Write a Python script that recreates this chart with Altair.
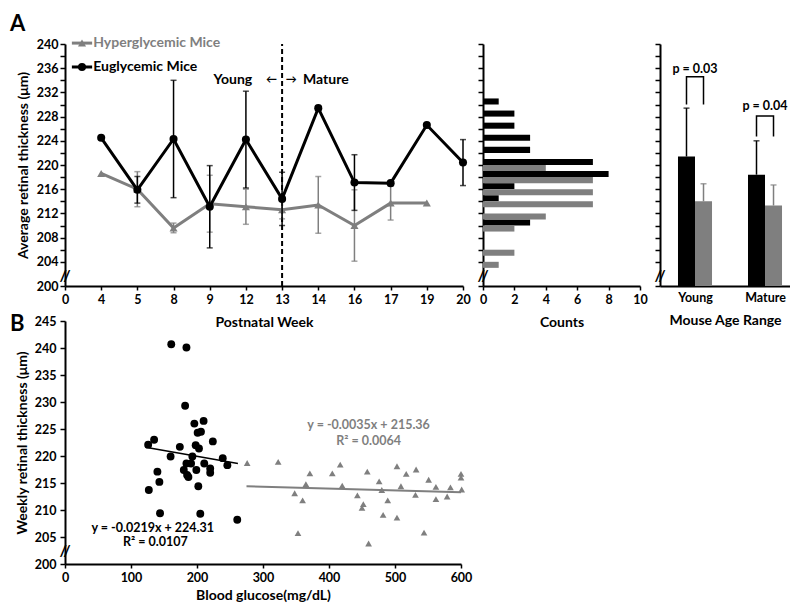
import json
import altair as alt
import pandas as pd

FONT = "Lato"
GRAY = "#7f7f7f"
BLACK = "#000000"

# ---------------- Panel A (left): weekly averages ----------------
week_labels = ["0", "4", "5", "8", "9", "12", "13", "14", "16", "17", "19", "20"]
eu_weeks = ["4", "5", "8", "9", "12", "13", "14", "16", "17", "19", "20"]
eu_mean = [224.5, 215.9, 224.3, 213.1, 224.2, 214.4, 229.4, 217.1, 217.0, 226.6, 220.4]
eu_sd = [0, 2.2, 9.7, 6.8, 8.0, 4.4, 0, 4.6, 0, 0, 3.8]
hy_weeks = ["4", "5", "8", "9", "12", "13", "14", "16", "17", "19"]
hy_mean = [218.6, 216.0, 209.6, 213.6, 213.1, 212.6, 213.4, 210.0, 213.7, 213.7]
hy_sd = [0, 2.9, 0.8, 4.7, 2.9, 1.5, 4.7, 5.9, 2.8, 0]
legend_names = ["Hyperglycemic Mice", "Euglycemic Mice"]
age_split_week = "13"
age_notes = ["Young", "←", "→", "Mature"]

# ---------------- Panel A (middle): histogram ----------------
hist_bins = [230, 228, 226, 224, 222, 220, 218, 216, 214, 212, 210, 208, 206, 204]
hist_eu = [1, 2, 2, 3, 3, 7, 8, 2, 1, 0, 3, 0, 0, 0]
hist_hy = [0, 0, 0, 0, 0, 4, 7, 7, 7, 4, 2, 0, 2, 1]

# ---------------- Panel A (right): age groups ----------------
age_groups = ["Young", "Mature"]
grp_eu_mean = [221.4, 218.4]
grp_eu_sd = [8.0, 5.6]
grp_hy_mean = [214.0, 213.3]
grp_hy_sd = [2.9, 3.4]
p_values = ["p = 0.03", "p = 0.04"]
p_bracket_top = [234.6, 228.1]
p_bracket_foot = [230.0, 224.7]
p_label_y = [235.8, 229.8]

# ---------------- Panel B: scatter ----------------
eu_glucose = [161, 184, 182, 210, 196, 201, 206, 224, 135, 126, 174, 198, 203, 160, 193,
              239, 246, 184, 191, 211, 220, 220, 180, 199, 185, 187, 140, 143, 202, 127,
              144, 205, 261]
eu_thick = [240.7, 240.1, 229.3, 226.5, 226.0, 224.3, 224.5, 222.7, 223.0, 222.1, 221.7,
            222.0, 221.4, 219.9, 219.9, 219.6, 218.3, 218.6, 218.6, 218.6, 217.7, 216.9,
            217.4, 217.4, 216.5, 216.1, 217.1, 215.2, 214.4, 213.7, 209.4, 209.3, 208.2]
hy_glucose = [276, 323, 371, 365, 348, 360, 353, 405, 417, 420, 443, 452, 450, 458, 460,
              476, 480, 489, 482, 503, 503, 509, 517, 532, 531, 544, 551, 562, 562, 579,
              584, 600, 600, 601]
hy_thick = [218.7, 218.9, 216.8, 214.8, 213.1, 211.8, 205.7, 216.8, 218.4, 214.5, 212.7,
            211.1, 210.4, 217.1, 203.8, 215.3, 213.7, 211.8, 209.1, 208.6, 218.1, 214.4,
            216.7, 217.5, 212.8, 205.8, 215.6, 214.3, 212.0, 212.5, 214.2, 216.7, 216.0, 213.8]
eu_fit_x = [122, 262]
eu_fit_y = [221.6, 218.6]
hy_fit_x = [275, 600]
hy_fit_y = [214.4, 213.3]
eu_eq = ["y = -0.0219x + 224.31", "R² = 0.0107"]
hy_eq = ["y = -0.0035x + 215.36", "R² = 0.0064"]

# =====================================================================
pos = {w: i for i, w in enumerate(week_labels)}


def series_df(weeks, mean, sd):
    d = pd.DataFrame({"x": [pos[w] for w in weeks], "y": mean, "sd": sd})
    d["lo"] = d["y"] - d["sd"]
    d["hi"] = d["y"] + d["sd"]
    return d


eu_df = series_df(eu_weeks, eu_mean, eu_sd)
hy_df = series_df(hy_weeks, hy_mean, hy_sd)

A_xaxis = alt.Axis(values=list(range(len(week_labels))),
                   labelExpr=json.dumps(week_labels) + "[datum.value]",
                   title="Postnatal Week", tickSize=4, labelPadding=3, titlePadding=10)
A_yaxis = alt.Axis(values=[200] + list(range(204, 241, 2)),
                   labelExpr="datum.value % 4 == 0 ? datum.label : ''",
                   title="Average retinal thickness (μm)", tickSize=5, labelPadding=2,
                   titlePadding=6)
Y_SCALE = alt.Scale(domain=[200, 240], nice=False, zero=False)


def ax(f):
    return alt.X(f"{f}:Q", scale=alt.Scale(domain=[0, 11], nice=False, zero=False), axis=A_xaxis)


def ay(f):
    return alt.Y(f"{f}:Q", scale=Y_SCALE, axis=A_yaxis)


def err_layers(df, color, xenc, yenc):
    b = alt.Chart(df[df["sd"] > 0])
    r = b.mark_rule(color=color, strokeWidth=1.5).encode(x=xenc("x"), y=yenc("lo"), y2="hi")
    t1 = b.mark_tick(color=color, orient="horizontal", size=6, thickness=1.5).encode(
        x=xenc("x"), y=yenc("lo"))
    t2 = b.mark_tick(color=color, orient="horizontal", size=6, thickness=1.5).encode(
        x=xenc("x"), y=yenc("hi"))
    return [r, t1, t2]


dash = alt.Chart(pd.DataFrame({"x": [pos[age_split_week]], "lo": [200], "hi": [240]})).mark_rule(
    color=BLACK, strokeWidth=2, strokeDash=[5, 3]).encode(x=ax("x"), y=ay("lo"), y2="hi")

hy_line = alt.Chart(hy_df).mark_line(color=GRAY, strokeWidth=3).encode(x=ax("x"), y=ay("y"))
hy_pts = alt.Chart(hy_df).mark_point(shape="triangle-up", filled=True, size=65, color=GRAY,
                                     opacity=1).encode(x=ax("x"), y=ay("y"))
eu_line = alt.Chart(eu_df).mark_line(color=BLACK, strokeWidth=3).encode(x=ax("x"), y=ay("y"))
eu_pts = alt.Chart(eu_df).mark_point(shape="circle", filled=True, size=65, color=BLACK,
                                     opacity=1).encode(x=ax("x"), y=ay("y"))

leg_df = pd.DataFrame({"name": legend_names, "x0": [0.19, 0.19], "x1": [0.75, 0.75],
                       "xm": [0.47, 0.47], "xt": [0.78, 0.78], "y": [240.15, 236.2],
                       "color": [GRAY, BLACK], "shape": ["triangle-up", "circle"]})
leg_rule = alt.Chart(leg_df).mark_rule(strokeWidth=3).encode(
    x=ax("x0"), x2="x1", y=ay("y"), color=alt.Color("color:N", scale=None))
leg_pt = alt.Chart(leg_df).mark_point(filled=True, size=65, opacity=1).encode(
    x=ax("xm"), y=ay("y"), color=alt.Color("color:N", scale=None),
    shape=alt.Shape("shape:N", scale=None))
leg_txt = alt.Chart(leg_df).mark_text(align="left", font=FONT, fontSize=14, fontWeight="bold").encode(
    x=ax("xt"), y=ay("y"), text="name:N", color=alt.Color("color:N", scale=None))

note_df = pd.DataFrame({"x": [4.64, 5.71, 6.25, 7.21], "y": [234.0] * 4, "t": age_notes,
                        "fs": [14, 11, 11, 14]})
notes = alt.Chart(note_df).mark_text(font=FONT, fontWeight="bold", color=BLACK).encode(
    x=ax("x"), y=ay("y"), text="t:N", size=alt.Size("fs:Q", scale=None))

brkA = alt.Chart(pd.DataFrame({"x": [0], "y": [201.7]})).mark_text(
    text="//", font=FONT, fontSize=16, fontWeight="bold", color=BLACK).encode(x=ax("x"), y=ay("y"))
labA = alt.Chart(pd.DataFrame({"x": [-1.52], "y": [243.3], "t": ["A"]})).mark_text(
    align="left", font=FONT, fontSize=22, fontWeight="bold", color=BLACK).encode(
    x=ax("x"), y=ay("y"), text="t:N")

lineA = alt.layer(dash, *err_layers(hy_df, GRAY, ax, ay), hy_line, hy_pts,
                  *err_layers(eu_df, BLACK, ax, ay), eu_line, eu_pts,
                  leg_rule, leg_pt, leg_txt, notes, brkA, labA).properties(width=398, height=242)

# ---------------- histogram ----------------
rows = []
for v, c in zip(hist_bins, hist_eu):
    if c > 0:
        rows.append({"count": c, "lo": v, "hi": v + 1, "color": BLACK})
for v, c in zip(hist_bins, hist_hy):
    if c > 0:
        rows.append({"count": c, "lo": v - 1, "hi": v, "color": GRAY})
hist_df = pd.DataFrame(rows)

H_xaxis = alt.Axis(values=[0, 2, 4, 6, 8, 10], title="Counts", tickSize=4, labelPadding=3,
                   titlePadding=10)
H_yaxis = alt.Axis(values=[200] + list(range(204, 241, 2)), labels=False, title=None, tickSize=5)


def hx(f):
    return alt.X(f"{f}:Q", scale=alt.Scale(domain=[0, 10], nice=False, zero=False), axis=H_xaxis)


def hy(f):
    return alt.Y(f"{f}:Q", scale=Y_SCALE, axis=H_yaxis)


hbars = alt.Chart(hist_df).mark_rect().encode(
    x=hx("count"), x2=alt.datum(0), y=hy("lo"), y2="hi", color=alt.Color("color:N", scale=None))
brkH = alt.Chart(pd.DataFrame({"x": [0], "y": [201.7]})).mark_text(
    text="//", font=FONT, fontSize=16, fontWeight="bold", color=BLACK).encode(x=hx("x"), y=hy("y"))
hist = alt.layer(hbars, brkH).properties(width=157, height=242)

# ---------------- age group bars ----------------
BAR_W = 0.243
brows = []
for i, g in enumerate(age_groups):
    brows.append({"x0": i - BAR_W, "x1": i, "xm": i - BAR_W / 2, "top": grp_eu_mean[i],
                  "hi": grp_eu_mean[i] + grp_eu_sd[i], "color": BLACK})
    brows.append({"x0": i, "x1": i + BAR_W, "xm": i + BAR_W / 2, "top": grp_hy_mean[i],
                  "hi": grp_hy_mean[i] + grp_hy_sd[i], "color": GRAY})
bar_df = pd.DataFrame(brows)

B_xaxis = alt.Axis(values=[0, 1], labelExpr=json.dumps(age_groups) + "[datum.value]",
                   ticks=False, title="Mouse Age Range", labelPadding=5, titlePadding=10)
B_yaxis = alt.Axis(values=[200] + list(range(204, 241, 2)), labels=False, title=None, tickSize=5)


def bx(f):
    return alt.X(f"{f}:Q", scale=alt.Scale(domain=[-0.5, 1.357], nice=False, zero=False),
                 axis=B_xaxis)


def by(f):
    return alt.Y(f"{f}:Q", scale=Y_SCALE, axis=B_yaxis)


bbars = alt.Chart(bar_df).mark_rect().encode(
    x=bx("x0"), x2="x1", y=by("top"), y2=alt.datum(200), color=alt.Color("color:N", scale=None))
berr = alt.Chart(bar_df).mark_rule(strokeWidth=1.5).encode(
    x=bx("xm"), y=by("top"), y2="hi", color=alt.Color("color:N", scale=None))
bcap = alt.Chart(bar_df).mark_tick(orient="horizontal", size=6, thickness=1.5).encode(
    x=bx("xm"), y=by("hi"), color=alt.Color("color:N", scale=None))

pr = []
for i in range(len(age_groups)):
    pts = [(i - BAR_W / 2, p_bracket_foot[i]), (i - BAR_W / 2, p_bracket_top[i]),
           (i + BAR_W / 2, p_bracket_top[i]), (i + BAR_W / 2, p_bracket_foot[i])]
    for k, (xx, yy) in enumerate(pts):
        pr.append({"x": xx, "y": yy, "o": k, "g": i})
br_df = pd.DataFrame(pr)
brackets = alt.Chart(br_df).mark_line(color=BLACK, strokeWidth=1.5).encode(
    x=bx("x"), y=by("y"), order="o:Q", detail="g:N")
ptxt = alt.Chart(pd.DataFrame({"x": list(range(len(age_groups))), "y": p_label_y,
                               "t": p_values})).mark_text(
    font=FONT, fontSize=12.5, fontWeight="bold", color=BLACK).encode(x=bx("x"), y=by("y"), text="t:N")
brkB = alt.Chart(pd.DataFrame({"x": [-0.5], "y": [201.7]})).mark_text(
    text="//", font=FONT, fontSize=16, fontWeight="bold", color=BLACK).encode(x=bx("x"), y=by("y"))
barp = alt.layer(bbars, berr, bcap, brackets, ptxt, brkB).properties(width=130, height=242)

# ---------------- scatter ----------------
S_xaxis = alt.Axis(values=list(range(0, 601, 100)), title="Blood glucose(mg/dL)", tickSize=4,
                   labelPadding=3, titlePadding=5)
S_yaxis = alt.Axis(values=list(range(200, 246, 5)), title="Weekly retinal thickness (μm)",
                   tickSize=5, labelPadding=4, titlePadding=5)


def sx(f):
    return alt.X(f"{f}:Q", scale=alt.Scale(domain=[0, 600], nice=False, zero=False), axis=S_xaxis)


def sy(f):
    return alt.Y(f"{f}:Q", scale=alt.Scale(domain=[200, 245], nice=False, zero=False), axis=S_yaxis)


eu_sc = pd.DataFrame({"x": eu_glucose, "y": eu_thick})
hy_sc = pd.DataFrame({"x": hy_glucose, "y": hy_thick})
hy_pts_s = alt.Chart(hy_sc).mark_point(shape="triangle-up", filled=True, size=45, color=GRAY,
                                       opacity=1).encode(x=sx("x"), y=sy("y"))
eu_pts_s = alt.Chart(eu_sc).mark_point(shape="circle", filled=True, size=62, color=BLACK,
                                       opacity=1).encode(x=sx("x"), y=sy("y"))
hy_fit = alt.Chart(pd.DataFrame({"x": hy_fit_x, "y": hy_fit_y})).mark_line(
    color=GRAY, strokeWidth=2).encode(x=sx("x"), y=sy("y"))
eu_fit = alt.Chart(pd.DataFrame({"x": eu_fit_x, "y": eu_fit_y})).mark_line(
    color=BLACK, strokeWidth=1.5).encode(x=sx("x"), y=sy("y"))
eq_df = pd.DataFrame({"x": [133, 137, 460, 460], "y": [206.7, 204.0, 225.8, 222.8],
                      "t": eu_eq + hy_eq, "color": [BLACK, BLACK, GRAY, GRAY]})
eqs = alt.Chart(eq_df).mark_text(font=FONT, fontSize=12.5, fontWeight="bold").encode(
    x=sx("x"), y=sy("y"), text="t:N", color=alt.Color("color:N", scale=None))
brkS = alt.Chart(pd.DataFrame({"x": [0], "y": [202.4]})).mark_text(
    text="//", font=FONT, fontSize=16, fontWeight="bold", color=BLACK).encode(x=sx("x"), y=sy("y"))
labB = alt.Chart(pd.DataFrame({"x": [-83.3], "y": [244.5], "t": ["B"]})).mark_text(
    align="left", font=FONT, fontSize=22, fontWeight="bold", color=BLACK).encode(
    x=sx("x"), y=sy("y"), text="t:N")
scat = alt.layer(hy_fit, hy_pts_s, eu_pts_s, eu_fit, eqs, brkS, labB).properties(width=396, height=243)

chart = alt.concat(lineA, hist, barp, scat, columns=3, spacing={"row": 35, "column": 20},
                   bounds="flush", align="each").properties(
    padding={"left": 2, "top": 5, "right": 0, "bottom": 0}
).configure_view(stroke=None).configure_axis(
    domainColor=BLACK, domainWidth=2, tickColor=BLACK, tickWidth=1.5,
    labelFont=FONT, labelFontSize=12.5, labelFontWeight="bold", labelColor=BLACK,
    titleFont=FONT, titleFontSize=14, titleFontWeight="bold", titleColor=BLACK,
    grid=False, labelOverlap=False, labelFlush=False, labelBound=False
)

chart.save("out.html", embed_options={"renderer": "svg", "actions": False})
